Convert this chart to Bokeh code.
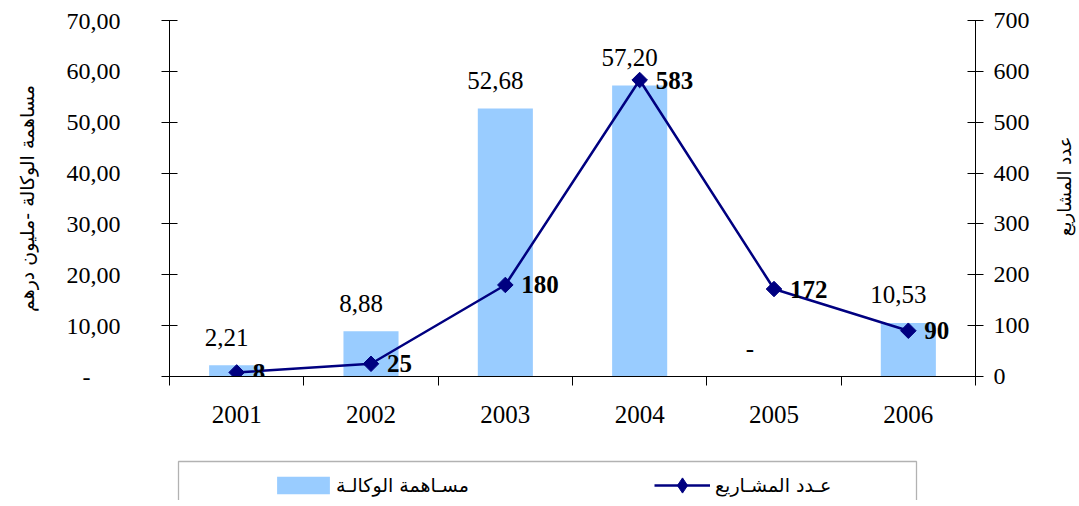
import math
from bokeh.plotting import figure
from bokeh.layouts import column, row
from bokeh.models import (Range1d, LinearAxis, FixedTicker, ColumnDataSource,
                          Legend, LegendItem, BoxAnnotation, Spacer, Label)
from bokeh.core.properties import value
from bokeh.embed import file_html
from bokeh.resources import INLINE

# ---------------- data ----------------
years = ["2001", "2002", "2003", "2004", "2005", "2006"]
contribution = [2.21, 8.88, 52.68, 57.20, 0.0, 10.53]          # مساهمة الوكالة (مليون درهم)
contribution_labels = ["2,21", "8,88", "52,68", "57,20", "-", "10,53"]
projects = [8, 25, 180, 583, 172, 90]                           # عدد المشاريع
projects_labels = ["8", "25", "180", "583", "172", "90"]

left_ticks = [0, 10, 20, 30, 40, 50, 60, 70]
left_tick_labels = ["-", "10,00", "20,00", "30,00", "40,00", "50,00", "60,00", "70,00"]
right_ticks = [0, 100, 200, 300, 400, 500, 600, 700]

left_title = "مساهمة الوكالة -مليون درهم"
right_title = "عدد المشاريع"
bar_legend = "مسـاهمة الوكالـة"
line_legend = "عـدد المشـاريع"

# ---------------- styles ----------------
SERIF = "Liberation Serif"
ARABIC = "DejaVu Sans"
NAVY = "#000080"
BAR = "#99CCFF"

n = len(years)
xc = [i + 0.5 for i in range(n)]

# ---------------- main chart ----------------
p = figure(width=1045, height=453, output_backend="svg", toolbar_location=None,
           x_range=Range1d(0, n), y_range=Range1d(0, 70),
           min_border_left=169, min_border_right=70, min_border_top=20,
           min_border_bottom=77, x_axis_type=None, y_axis_type=None)
p.outline_line_color = None
p.xgrid.visible = False
p.ygrid.visible = False
p.extra_y_ranges = {"proj": Range1d(0, 700)}

# bottom axis: labels at category centres, ticks at category boundaries
xaxis = LinearAxis(ticker=FixedTicker(ticks=xc, minor_ticks=list(range(n + 1))))
xaxis.major_label_overrides = {x: y for x, y in zip(xc, years)}
xaxis.major_tick_line_color = None
xaxis.major_tick_in = 0
xaxis.major_tick_out = 0
xaxis.minor_tick_line_color = "black"
xaxis.minor_tick_in = 0
xaxis.minor_tick_out = 9
xaxis.axis_line_color = "black"
xaxis.major_label_text_font = SERIF
xaxis.major_label_text_font_size = "25px"
xaxis.major_label_text_color = "black"
xaxis.major_label_standoff = 20
p.add_layout(xaxis, "below")

# left axis
nb = "\u00a0" * 5
lyaxis = LinearAxis(ticker=FixedTicker(ticks=left_ticks, minor_ticks=[]))
lyaxis.major_label_overrides = {t: (l + nb if l == "-" else l)
                                for t, l in zip(left_ticks, left_tick_labels)}
lyaxis.major_tick_in = 8
lyaxis.major_tick_out = 8
lyaxis.major_tick_line_color = "black"
lyaxis.axis_line_color = "black"
lyaxis.major_label_text_font = SERIF
lyaxis.major_label_text_font_size = "24px"
lyaxis.major_label_text_color = "black"
lyaxis.major_label_standoff = 41
lyaxis.axis_label = left_title
lyaxis.axis_label_text_font = ARABIC
lyaxis.axis_label_text_font_style = "normal"
lyaxis.axis_label_text_font_size = "19px"
lyaxis.axis_label_text_color = "black"
lyaxis.axis_label_standoff = 26
p.add_layout(lyaxis, "left")

# right axis
ryaxis = LinearAxis(y_range_name="proj",
                    ticker=FixedTicker(ticks=right_ticks, minor_ticks=[]))
ryaxis.major_tick_in = 8
ryaxis.major_tick_out = 8
ryaxis.major_tick_line_color = "black"
ryaxis.axis_line_color = "black"
ryaxis.major_label_text_font = SERIF
ryaxis.major_label_text_font_size = "24px"
ryaxis.major_label_text_color = "black"
ryaxis.major_label_standoff = 10
p.add_layout(ryaxis, "right")

# ---------------- glyphs ----------------
src = ColumnDataSource(dict(
    x=xc, c=contribution, clab=contribution_labels,
    cxoff=[-24 if v == 0 else -10 for v in contribution],
    pr=projects, plab=projects_labels))

p.vbar(x="x", top="c", bottom=0, width=0.41, source=src,
       fill_color=BAR, line_color=None)

p.text(x="x", y="c", text="clab", source=src, x_offset="cxoff", y_offset=-28,
       text_align="center", text_baseline="alphabetic",
       text_font=value(SERIF), text_font_size="25px", text_color="black")

p.line(x="x", y="pr", source=src, y_range_name="proj",
       line_color=NAVY, line_width=2.5)
p.scatter(x="x", y="pr", source=src, y_range_name="proj",
          marker="square", angle=math.pi / 4, size=11,
          fill_color=NAVY, line_color=NAVY)

p.text(x="x", y="pr", text="plab", source=src, y_range_name="proj",
       x_offset=16, y_offset=0, text_align="left", text_baseline="middle",
       text_font=value(SERIF), text_font_size="25px", text_font_style="bold",
       text_color="black")

# ---------------- right axis title strip ----------------
rt = figure(width=34, height=453, output_backend="svg", toolbar_location=None,
            x_range=Range1d(0, 34), y_range=Range1d(453, 0),
            min_border=0, x_axis_type=None, y_axis_type=None)
rt.outline_line_color = None
rt.xgrid.visible = False
rt.ygrid.visible = False
rt.add_layout(Label(x=19, y=211, text=right_title, angle=math.pi / 2,
                    text_align="center", text_baseline="middle",
                    text_font=ARABIC, text_font_size="18px", text_color="black"))

# ---------------- legend strip ----------------
lg = figure(width=745, height=47, output_backend="svg", toolbar_location=None,
            x_range=Range1d(-100, -99), y_range=Range1d(-100, -99),
            min_border=0, x_axis_type=None, y_axis_type=None)
lg.outline_line_color = None
lg.xgrid.visible = False
lg.ygrid.visible = False

# legend proxies (same data, outside this strip's view)
leg_bar = lg.vbar(x="x", top="c", bottom=0, width=0.41, source=src,
                  fill_color=BAR, line_color=None)
leg_line = lg.line(x="x", y="pr", source=src, line_color=NAVY, line_width=2.5)
leg_mark = lg.scatter(x="x", y="pr", source=src, marker="diamond",
                      size=11, fill_color=NAVY, line_color=NAVY)

lg.add_layout(BoxAnnotation(left=2, right=740, top=8, bottom=80,
                            left_units="canvas", right_units="canvas",
                            top_units="canvas", bottom_units="canvas",
                            fill_color=None, line_color="black", line_width=1.3))

common = dict(orientation="horizontal", padding=0, margin=0,
              label_text_font=ARABIC, label_text_font_size="19px",
              label_text_color="black", border_line_color=None,
              background_fill_alpha=0, label_height=20)

legend_bar = Legend(items=[LegendItem(label=bar_legend, renderers=[leg_bar])],
                    location=(94, 4), glyph_width=66, glyph_height=22,
                    label_standoff=0, **common)
legend_line = Legend(items=[LegendItem(label=line_legend, renderers=[leg_line, leg_mark])],
                     location=(478, -4), glyph_width=56, glyph_height=38,
                     label_standoff=5, **common)
lg.add_layout(legend_bar, "center")
lg.add_layout(legend_line, "center")

layout = column(row(p, rt), row(Spacer(width=176, height=47), lg))

open("out.html", "w").write(file_html(layout, INLINE))
